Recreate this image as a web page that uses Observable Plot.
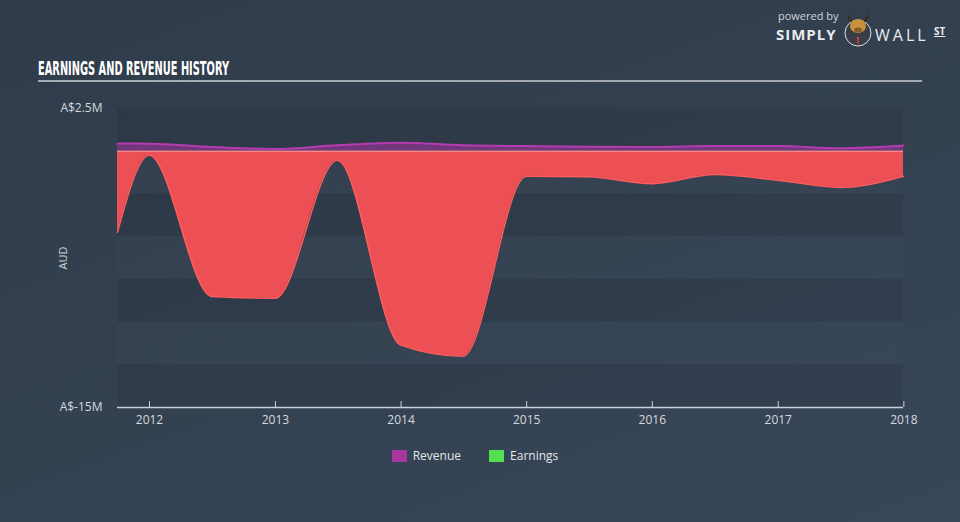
<!DOCTYPE html>
<html>
<head>
<meta charset="utf-8">
<script src="https://cdn.jsdelivr.net/npm/d3@7"></script>
<script src="https://cdn.jsdelivr.net/npm/@observablehq/plot@0.6"></script>
<style>
  html, body { margin: 0; padding: 0; width: 960px; height: 522px; overflow: hidden; }
  body { background: linear-gradient(160deg, #303c4b 0%, #344151 55%, #38465a 100%); position: relative; font-family: "Open Sans", Lato, sans-serif; }
  #chart { position: absolute; left: 0; top: 0; }
  .ov { position: absolute; color: #e4e7ea; white-space: nowrap; line-height: 1; }
  #title { left: 38px; top: 59px; font-family: "Liberation Sans Narrow", "DejaVu Sans Condensed", sans-serif; font-weight: bold; font-size: 19px; color: #ffffff; transform-origin: left top; }
  #rule { position: absolute; left: 38px; top: 80px; width: 884px; height: 2px; background: #a3aab3; }
  #aud { left: 62px; top: 258px; font-size: 11px; color: #c9ced4; transform: translate(-50%, -50%) rotate(-90deg); }
  #legend { left: 0; top: 450px; width: 950px; text-align: center; font-size: 12px; color: #e4e7ea; }
  #legend span.sw { display: inline-block; width: 15px; height: 12px; vertical-align: -2px; margin-right: 6px; }
  #legend span.item { margin: 0 14px; }
  #logo { left: 776px; top: 10px; width: 180px; height: 40px; }
  #logo div { position: absolute; line-height: 1; }
</style>
</head>
<body>
<div id="chart"></div>
<div class="ov" id="title">EARNINGS AND REVENUE HISTORY</div>
<div id="rule"></div>
<div class="ov" id="aud">AUD</div>
<div class="ov" id="legend"></div>
<div class="ov" id="logo">
  <div style="left:2px;top:0px;font-size:11px;color:#cfd3d8;">powered by</div>
  <div style="left:0px;top:17px;font-size:15px;font-weight:bold;letter-spacing:1px;color:#e9ebee;">SIMPLY</div>
  <svg style="position:absolute;left:66px;top:0px;" width="32" height="38" viewBox="0 0 32 38">
    <circle cx="16" cy="23" r="13" fill="#3a3f47" stroke="#ddd" stroke-width="1"/>
    <path d="M6 5 Q8 12 12 12 M26 5 Q24 12 20 12" stroke="#3b2b1a" stroke-width="2" fill="none"/>
    <ellipse cx="16" cy="16" rx="8" ry="7" fill="#c8913c"/>
    <ellipse cx="16" cy="20" rx="4" ry="2.5" fill="#8a5b2a"/>
    <path d="M15 27 L17 27 L16.5 34 L15.5 34 Z" fill="#e0463c"/>
  </svg>
  <div style="left:99px;top:17px;font-size:16px;letter-spacing:3px;color:#e9ebee;">WALL</div>
  <div style="left:158px;top:16px;font-size:10px;font-weight:bold;color:#e9ebee;text-decoration:underline;">ST</div>
</div>
<script>
// ---- data (values in A$ millions) ----
const dates = ["2011-09-30", "2011-12-31", "2012-06-30", "2012-12-31", "2013-06-30", "2013-12-31", "2014-06-30",
               "2014-12-31", "2015-06-30", "2015-12-31", "2016-06-30", "2016-12-31", "2017-06-30", "2017-12-31"];
const revenue = [0.45, 0.44, 0.25, 0.13, 0.35, 0.50, 0.35, 0.30, 0.26, 0.25, 0.30, 0.30, 0.17, 0.33];
const earnings = [-4.74, -0.23, -8.5, -8.6, -0.53, -11.35, -12.0, -1.46, -1.5, -1.9, -1.36, -1.7, -2.12, -1.46];

const yearTicks = ["2012", "2013", "2014", "2015", "2016", "2017", "2018"];
const yTicks = [2.5, -15];
const yTickLabels = ["A$2.5M", "A$-15M"];
const bandEdges = [2.5, 0, -2.5, -5, -7.5, -10, -12.5, -15];

const seriesNames = ["Revenue", "Earnings"];
const seriesColors = ["#a6379f", "#52e052"];

// ---- build tables ----
const rows = dates.map((d, i) => ({date: new Date(d + "T00:00:00Z"), revenue: revenue[i], earnings: earnings[i]}));
const bands = bandEdges.slice(0, -1).map((y1, i) => ({y1, y2: bandEdges[i + 1], dark: i % 2 === 0}));
const tickDates = yearTicks.map(y => new Date(y + "-01-01T00:00:00Z"));

const chart = Plot.plot({
  width: 960,
  height: 522,
  marginLeft: 117,
  marginRight: 57,
  marginTop: 108,
  marginBottom: 115,
  style: {background: "transparent", fontFamily: "'Open Sans', Lato, sans-serif", fontSize: "12px", color: "#d5d9de"},
  x: {type: "utc", domain: [rows[0].date, rows[rows.length - 1].date]},
  y: {domain: [-15, 2.5]},
  marks: [
    Plot.rect(bands, {y1: "y1", y2: "y2", fill: d => d.dark ? "rgba(0,0,0,0.07)" : "rgba(255,255,255,0.01)"}),
    Plot.areaY(rows, {x: "date", y: "revenue", curve: "monotone-x", fill: "#a0369c", fillOpacity: 0.6}),
    Plot.lineY(rows, {x: "date", y: "revenue", curve: "monotone-x", stroke: "#b43bb0", strokeWidth: 2}),
    Plot.areaY(rows, {x: "date", y: "earnings", curve: "monotone-x", fill: "#ec5054"}),
    Plot.lineY(rows, {x: "date", y: "earnings", curve: "monotone-x", stroke: "#ff5c5c", strokeWidth: 1.5}),
    Plot.ruleY([0], {stroke: "#f2a0a0", strokeWidth: 1}),
    Plot.ruleY([-15], {stroke: "#c9d2dc", strokeWidth: 1.5}),
    Plot.axisY({ticks: yTicks, tickSize: 0, tickPadding: 15, tickFormat: d => yTickLabels[yTicks.indexOf(d)], label: null, fill: "#d5d9de"}),
    Plot.axisX({ticks: tickDates, tickSize: 6, dy: -6, tickFormat: () => "", stroke: "#c9d2dc", label: null}),
    Plot.axisX({ticks: tickDates, tickSize: 0, tickPadding: 8, tickFormat: d => String(d.getUTCFullYear()), label: null, fill: "#d5d9de"})
  ]
});
document.getElementById("chart").appendChild(chart);

// legend
const legend = document.getElementById("legend");
legend.innerHTML = seriesNames.map((n, i) =>
  `<span class="item"><span class="sw" style="background:${seriesColors[i]}"></span>${n}</span>`).join("");

// fit condensed title width to reference
const title = document.getElementById("title");
const w = title.getBoundingClientRect().width;
title.style.transform = `scaleX(${191 / w})`;
</script>
</body>
</html>
